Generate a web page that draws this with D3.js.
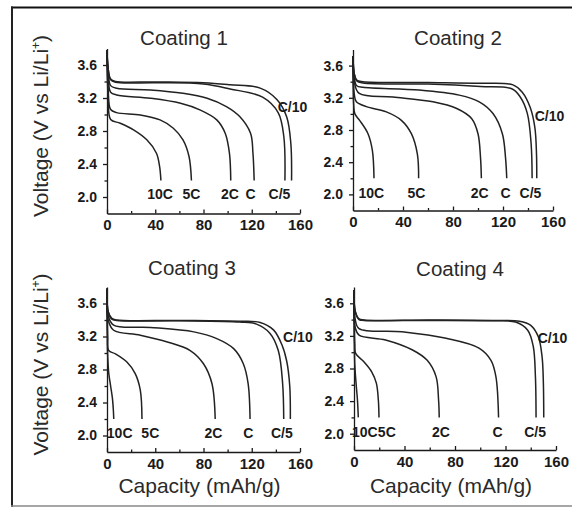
<!DOCTYPE html>
<html>
<head>
<meta charset="utf-8">
<script src="https://cdn.jsdelivr.net/npm/d3@7"></script>
<style>
  body { margin: 0; background: #fff; }
  svg { display: block; }
</style>
</head>
<body>
<svg id="chart" width="572" height="508"></svg>
<script>
'use strict';

const rates = ['C/10', 'C/5', 'C', '2C', '5C', '10C'];
const xTicks = [0, 40, 80, 120, 160];
const xMinor = [20, 60, 100, 140];
const yTicks = [2.0, 2.4, 2.8, 3.2, 3.6];
const yMinor = [2.2, 2.6, 3.0, 3.4];

// discharge curves, [capacity mAh/g, voltage V], same order as rates
const coating1 = [
  [[0, 3.78], [1, 3.55], [3, 3.43], [7, 3.40], [40, 3.395], [80, 3.385], [102, 3.36], [127, 3.32], [141, 3.18], [149, 2.97], [152.4, 2.65], [153, 2.2]],
  [[0, 3.78], [1, 3.55], [3, 3.42], [7, 3.39], [40, 3.385], [80, 3.37], [102, 3.31], [129, 3.21], [142, 3.02], [146.6, 2.73], [147.5, 2.2]],
  [[0, 3.78], [1, 3.5], [3, 3.35], [8, 3.318], [36, 3.298], [63, 3.257], [83, 3.197], [99, 3.096], [110, 2.975], [119, 2.773], [121, 2.531], [122, 2.2]],
  [[0, 3.78], [1, 3.45], [3, 3.27], [8, 3.237], [36, 3.197], [61, 3.136], [77, 3.056], [91, 2.935], [98, 2.773], [101.5, 2.531], [102.6, 2.2]],
  [[0, 3.78], [1, 3.3], [3, 3.06], [8, 3.023], [27.6, 2.995], [44, 2.935], [55, 2.834], [63, 2.693], [68, 2.491], [70, 2.2]],
  [[0, 3.78], [1, 3.2], [3, 2.94], [11, 2.894], [22, 2.814], [33, 2.693], [41, 2.531], [43.6, 2.37], [44.7, 2.2]]
];
const coating2 = [
  [[0, 3.72], [1, 3.5], [3, 3.42], [8, 3.40], [60, 3.39], [102, 3.38], [128, 3.36], [135.4, 3.27], [141.8, 3.08], [145.5, 2.83], [146.8, 2.5], [147, 2.2]],
  [[0, 3.72], [1, 3.5], [3, 3.41], [8, 3.385], [60, 3.37], [102, 3.34], [127.4, 3.31], [133.8, 3.21], [139.4, 3.01], [142.5, 2.63], [143.3, 2.2]],
  [[0, 3.72], [1, 3.45], [3, 3.35], [8, 3.33], [53, 3.296], [85, 3.233], [101, 3.15], [112, 3.004], [119.5, 2.754], [122, 2.46], [123, 2.2]],
  [[0, 3.72], [1, 3.4], [5, 3.254], [32, 3.21], [64, 3.15], [83, 3.067], [95, 2.94], [100, 2.754], [102, 2.46], [102.7, 2.2]],
  [[0, 3.72], [1, 3.25], [2.7, 3.15], [10.7, 3.09], [26.7, 3.025], [38.7, 2.92], [46.7, 2.754], [51.5, 2.5], [52.5, 2.2]],
  [[0, 3.72], [0.6, 3.1], [1.5, 3.0], [5.3, 2.92], [12, 2.754], [15.5, 2.546], [16.8, 2.2]]
];
const coating3 = [
  [[0, 3.78], [1, 3.5], [4, 3.42], [8, 3.40], [60, 3.395], [110, 3.385], [127, 3.37], [138, 3.28], [145, 3.1], [149, 2.9], [151.5, 2.6], [152, 2.2]],
  [[0, 3.78], [1, 3.5], [4, 3.41], [8, 3.395], [60, 3.39], [110, 3.375], [124, 3.35], [135, 3.24], [142, 3.03], [145.6, 2.63], [146.5, 2.2]],
  [[0, 3.78], [1, 3.45], [5.5, 3.337], [36, 3.31], [72, 3.256], [91, 3.175], [105, 3.053], [113, 2.87], [117, 2.63], [118.6, 2.2]],
  [[0, 3.78], [1, 3.4], [5.5, 3.276], [27.6, 3.215], [50, 3.134], [69, 3.03], [80, 2.87], [87, 2.63], [89.7, 2.2]],
  [[0, 3.78], [0.6, 3.2], [1.4, 3.03], [7, 2.99], [16.5, 2.89], [23.4, 2.75], [27.6, 2.55], [29, 2.2]],
  [[0, 3.78], [0.5, 3.0], [1.5, 2.75], [3, 2.6], [4.5, 2.45], [5.3, 2.3], [5.6, 2.2]]
];
const coating4 = [
  [[0, 3.76], [1, 3.5], [4, 3.41], [8, 3.395], [60, 3.395], [110, 3.39], [131, 3.38], [140, 3.33], [146, 3.19], [149, 2.94], [150, 2.62], [150.3, 2.2]],
  [[0, 3.76], [1, 3.5], [4, 3.40], [8, 3.39], [60, 3.39], [110, 3.385], [128, 3.37], [137.6, 3.27], [142, 3.07], [143.7, 2.7], [144.2, 2.2]],
  [[0, 3.76], [1, 3.4], [4, 3.29], [38, 3.25], [73, 3.17], [99, 3.05], [108.5, 2.9], [112.4, 2.7], [114.5, 2.2]],
  [[0, 3.76], [1, 3.3], [4, 3.21], [25, 3.15], [46, 3.03], [58, 2.9], [65, 2.7], [67, 2.41], [67.5, 2.2]],
  [[0, 3.76], [0.6, 3.1], [1.3, 2.985], [8, 2.88], [14, 2.76], [17.7, 2.62], [19.3, 2.41], [19.8, 2.2]],
  [[0, 3.76], [0.5, 2.9], [1, 2.75], [2, 2.55], [2.8, 2.4], [3.4, 2.2]]
];

// rate label anchors [capacity, voltage], same order as rates
const labels1 = [[141.5, 3.09], [143, 2.04], [119, 2.04], [102, 2.04], [70, 2.04], [44, 2.04]];
const labels2 = [[145.3, 2.98], [142, 2.02], [122, 2.02], [101.3, 2.02], [50.7, 2.02], [14.7, 2.02]];
const labels3 = [[146, 3.19], [145, 2.03], [117.2, 2.03], [88.3, 2.03], [35.9, 2.03], [10.5, 2.03]];
const labels4 = [[145.5, 3.17], [143.4, 2.02], [113.8, 2.02], [68.8, 2.02], [26, 2.02], [8.5, 2.02]];

const panels = [
  { title: 'Coating 1', curves: coating1, labels: labels1, left: 107, top: 48.5, w: 193, h: 165, tx: 184, ty: 45, yLabel: true, xLabel: false },
  { title: 'Coating 2', curves: coating2, labels: labels2, left: 353, top: 49.5, w: 200, h: 161, tx: 458, ty: 45, yLabel: false, xLabel: false },
  { title: 'Coating 3', curves: coating3, labels: labels3, left: 107, top: 287, w: 193, h: 165, tx: 192, ty: 275, yLabel: true, xLabel: true },
  { title: 'Coating 4', curves: coating4, labels: labels4, left: 354, top: 287, w: 202, h: 163, tx: 460, ty: 276, yLabel: false, xLabel: true }
];

const font = 'Arial, "Liberation Sans", sans-serif';
const ink = '#1a1a1a';

const svg = d3.select('#chart');

// frame
svg.append('line').attr('x1', 11).attr('x2', 572).attr('y1', 7.5).attr('y2', 7.5)
  .attr('stroke', '#111').attr('stroke-width', 2.2);
svg.append('line').attr('x1', 12).attr('x2', 12).attr('y1', 6.5).attr('y2', 507)
  .attr('stroke', '#222').attr('stroke-width', 2);
svg.append('line').attr('x1', 11).attr('x2', 572).attr('y1', 506).attr('y2', 506)
  .attr('stroke', '#888').attr('stroke-width', 1.5);

panels.forEach(p => {
  const x = d3.scaleLinear().domain([0, 160]).range([p.left, p.left + p.w]);
  const y = d3.scaleLinear().domain([1.8, 3.8]).range([p.top + p.h, p.top]);
  const g = svg.append('g');

  g.append('text')
    .attr('x', p.tx).attr('y', p.ty)
    .attr('text-anchor', 'middle')
    .attr('font-family', font).attr('font-size', 20.5)
    .attr('fill', '#2a2a2a')
    .text(p.title);

  // axes
  const yAxis = g.append('g')
    .attr('transform', `translate(${p.left},0)`)
    .call(d3.axisLeft(y).tickValues(yTicks).tickFormat(d3.format('.1f')).tickSize(4).tickSizeOuter(0).tickPadding(6));
  g.append('g')
    .attr('transform', `translate(${p.left},0)`)
    .call(d3.axisLeft(y).tickValues(yMinor).tickFormat('').tickSize(2.5).tickSizeOuter(0))
    .select('.domain').remove();

  const xAxis = g.append('g')
    .attr('transform', `translate(0,${p.top + p.h})`)
    .call(d3.axisBottom(x).tickValues(xTicks).tickSize(-4).tickSizeOuter(0).tickPadding(6));
  g.append('g')
    .attr('transform', `translate(0,${p.top + p.h})`)
    .call(d3.axisBottom(x).tickValues(xMinor).tickFormat('').tickSize(-2.5).tickSizeOuter(0))
    .select('.domain').remove();

  g.selectAll('.domain, .tick line').attr('stroke', ink).attr('stroke-width', 1.3);
  yAxis.selectAll('text').attr('font-family', font).attr('font-size', 14)
    .attr('font-weight', 'bold').attr('fill', ink);
  xAxis.selectAll('text').attr('font-family', font).attr('font-size', 15)
    .attr('font-weight', 'bold').attr('fill', ink);

  // curves
  const line = d3.line()
    .x(d => x(d[0]))
    .y(d => y(d[1]))
    .curve(d3.curveCatmullRom.alpha(0.5));

  g.selectAll('.curve')
    .data(p.curves)
    .enter()
    .append('path')
    .attr('class', 'curve')
    .attr('d', line)
    .attr('fill', 'none')
    .attr('stroke', '#222')
    .attr('stroke-width', 1.5);

  g.selectAll('.rate')
    .data(p.labels)
    .enter()
    .append('text')
    .attr('class', 'rate')
    .attr('x', d => x(d[0]))
    .attr('y', d => y(d[1]))
    .attr('dy', '0.36em')
    .attr('text-anchor', (d, i) => (i === 0 ? 'start' : 'middle'))
    .attr('font-family', font).attr('font-size', 14)
    .attr('font-weight', 'bold').attr('fill', ink)
    .text((d, i) => rates[i]);

  if (p.yLabel) {
    const cy = p.top + p.h / 2 - 5;
    const t = g.append('text')
      .attr('transform', `translate(48,${cy}) rotate(-90)`)
      .attr('text-anchor', 'middle')
      .attr('font-family', font).attr('font-size', 21)
      .attr('fill', '#2a2a2a');
    t.append('tspan').text('Voltage (V vs Li/Li');
    t.append('tspan').attr('font-size', 12).attr('dy', -8).text('+');
    t.append('tspan').attr('dy', 8).text(')');
  }

  if (p.xLabel) {
    g.append('text')
      .attr('x', p.left + p.w / 2 - 4).attr('y', 493)
      .attr('text-anchor', 'middle')
      .attr('font-family', font).attr('font-size', 21)
      .attr('fill', '#2a2a2a')
      .text('Capacity (mAh/g)');
  }
});
</script>
</body>
</html>
